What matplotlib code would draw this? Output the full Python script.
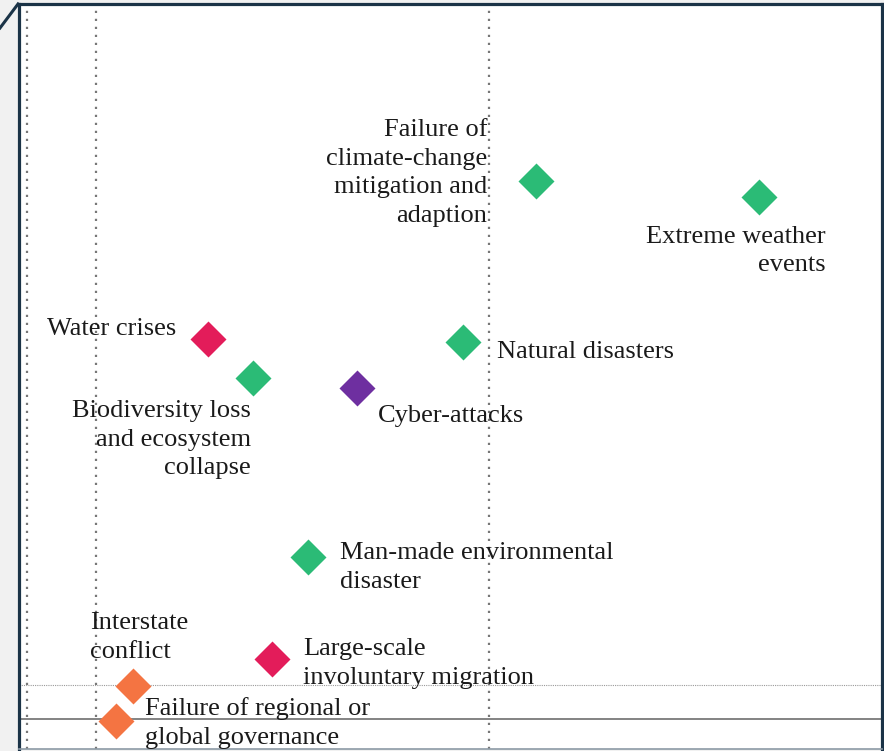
import matplotlib
matplotlib.use("Agg")
import matplotlib.pyplot as plt
from matplotlib.lines import Line2D

# ---- data ----
risks = [
    "Failure of\nclimate-change\nmitigation and\nadaption",
    "Extreme weather\nevents",
    "Water crises",
    "Natural disasters",
    "Biodiversity loss\nand ecosystem\ncollapse",
    "Cyber-attacks",
    "Man-made environmental\ndisaster",
    "Large-scale\ninvoluntary migration",
    "Interstate\nconflict",
    "Failure of regional or\nglobal governance",
]
likelihood = [4.12, 4.687, 3.285, 3.934, 3.399, 3.664, 3.539, 3.448, 3.094, 3.051]
impact = [4.55, 4.509, 4.148, 4.140, 4.048, 4.023, 3.593, 3.333, 3.265, 3.176]
category = ["env", "env", "soc", "env", "env", "tech", "env", "soc", "geo", "geo"]
avg_likelihood_lines = [2.824, 3.0, 4.0]
avg_impact_dotted = 3.267
avg_impact_solid = 3.181

colors = {"env": "#2bbb76", "soc": "#e31c5a", "tech": "#6e2fa0", "geo": "#f47442"}

# label placement: (dx px, dy px, ha)
label_style = [
    (-49, 8, "right"),
    (67, -54, "right"),
    (-32, 10, "right"),
    (34, -10, "left"),
    (-2, -61.5, "right"),
    (21, -28, "left"),
    (32, -10.5, "left"),
    (31, -4.5, "left"),
    (-43, 48.5, "left"),
    (29, -2, "left"),
]

W, H = 884, 751
fig = plt.figure(figsize=(W / 100, H / 100), dpi=100)
fig.patch.set_facecolor("#f1f1f1")
ax = fig.add_axes([19 / W, 2 / H, 863 / W, 745 / H])
ax.set_facecolor("white")
ax.set_xlim(2.804, 5.0)
ax.set_ylim(3.1043, 5.0)
ax.set_xticks([])
ax.set_yticks([])

navy = "#1b3347"
for s in ["left", "top", "right"]:
    ax.spines[s].set_color(navy)
    ax.spines[s].set_linewidth(2.3)
ax.spines["bottom"].set_color("#8c9aa5")
ax.spines["bottom"].set_linewidth(1.2)

for xv in avg_likelihood_lines:
    ax.axvline(xv, color="#777777", lw=1.6, linestyle=(0, (1, 2.6)), zorder=1)
ax.axhline(avg_impact_dotted, color="#9a9a9a", lw=0.8, linestyle=(0, (1, 1)), zorder=1)
ax.axhline(avg_impact_solid, color="#7a7a7a", lw=1.3, zorder=1)

for x, y, c in zip(likelihood, impact, category):
    ax.plot(x, y, marker="D", ms=18.5, color=colors[c], mec="none", zorder=3, linestyle="none")

font = dict(family="Liberation Serif", size=19, color="#1a1a1a")
for name, x, y, (dx, dy, ha) in zip(risks, likelihood, impact, label_style):
    ax.annotate(name, xy=(x, y), xytext=(dx * 0.72, dy * 0.72), textcoords="offset points",
                ha=ha, va="center", multialignment=ha, linespacing=1.38, zorder=4, **font)

# corner perspective line
fig.add_artist(Line2D([0 / W, 18 / W], [1 - 28 / H, 1 - 4 / H], color=navy, lw=2.2,
                      transform=fig.transFigure))

fig.savefig("out.png", dpi=100, facecolor=fig.get_facecolor())
